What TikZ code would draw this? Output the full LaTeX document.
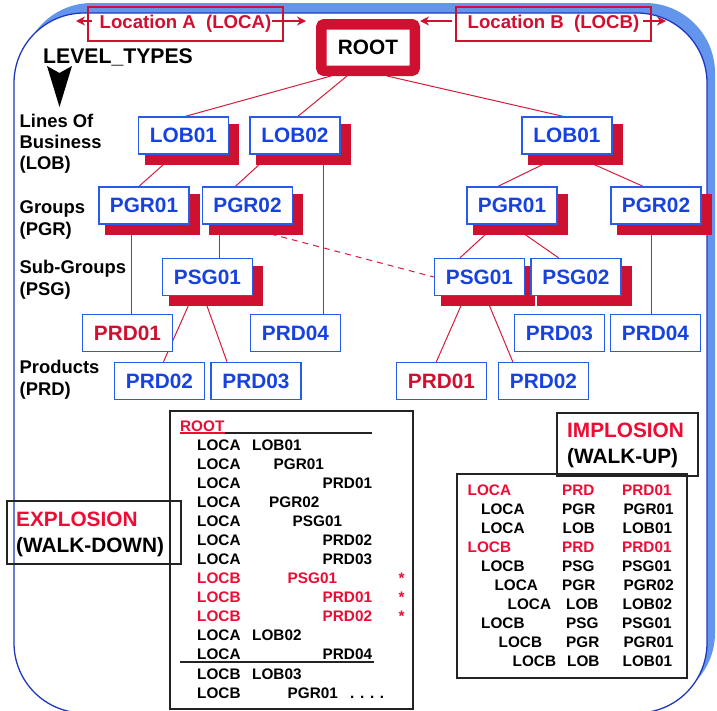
\documentclass[tikz,border=0pt]{standalone}
\usepackage{fontspec}
\setmainfont{Liberation Sans}
\usetikzlibrary{calc,arrows.meta}

\definecolor{crim}{RGB}{208,16,48}
\definecolor{hotred}{RGB}{238,12,52}
\definecolor{linkred}{RGB}{214,28,60}
\definecolor{nodeblue}{RGB}{22,66,226}
\definecolor{edgeblue}{RGB}{40,90,235}
\definecolor{frameblue}{RGB}{30,56,190}
\definecolor{framelight}{RGB}{100,149,237}
\definecolor{inkgray}{RGB}{35,35,35}

\newcommand\fBig{\fontsize{20.8}{25}\selectfont\bfseries}
\newcommand\fLvl{\fontsize{18.4}{21}\selectfont\bfseries}
\newcommand\fLoc{\fontsize{18.6}{22}\selectfont\bfseries}
\newcommand\fTab{\fontsize{15.3}{19}\selectfont\bfseries}

\pgfdeclarelayer{frame}
\pgfdeclarelayer{links}
\pgfdeclarelayer{shade}
\pgfsetlayers{frame,links,shade,main}

% red drop shadow behind a tree box
\newcommand\treeshadow[1]{\fill[crim] ($(#1.north west)+(7,8)$) rectangle ($(#1.south east)+(10,10)$);}

\tikzset{
  treebox/.style={draw=edgeblue, line width=1.4pt, fill=white, minimum width=90pt,
    minimum height=37pt, inner sep=0pt, text=nodeblue, font=\fBig},
  redprd/.style={treebox, text=crim},
  link/.style={draw=linkred, line width=1pt},
  lvl/.style={anchor=base west, inner sep=0pt, font=\fLvl},
  tab/.style={anchor=base west, inner sep=0pt, font=\fTab},
  head/.style={anchor=base west, inner sep=0pt, font=\fBig},
  tabbox/.style={draw=inkgray, line width=1.3pt},
  locbox/.style={draw=crim, line width=1.1pt, minimum width=195pt, minimum height=34pt,
    inner sep=0pt, text=crim, font=\fLoc},
  locarrow/.style={draw=crim, line width=1.4pt, -{Stealth[length=9pt,width=9pt]}},
}

\begin{document}
\begin{tikzpicture}[x=1pt,y=-1pt]
\useasboundingbox (0,0) rectangle (717,710);

% outer rounded frame with light blue offset edge
\begin{pgfonlayer}{frame}
  \fill[framelight, rounded corners=70pt] (22,3) rectangle (715,703);
  \draw[frameblue, line width=1.3pt, fill=white, rounded corners=70pt] (14,13) rectangle (707,713);
\end{pgfonlayer}

% locations
\node[locbox] (locA) at (185.5,24) {Location A\ \ (LOCA)};
\node[locbox] (locB) at (553.5,24) {Location B\ \ (LOCB)};
\coordinate (locAl) at (76,21);
\coordinate (locAr) at (306,21);
\coordinate (locBl) at (420,21);
\coordinate (locBr) at (666,21);
\draw[locarrow] ($(locA.west)+(5,-3)$) -- (locAl);
\draw[locarrow] ($(locA.east)+(-12,-3)$) -- (locAr);
\draw[locarrow] ($(locB.west)+(-3,-3)$) -- (locBl);
\draw[locarrow] ($(locB.east)+(-9,-3)$) -- (locBr);

% root
\node[draw=crim, line width=10.5pt, rounded corners=3pt, fill=white, minimum width=93.5pt,
  minimum height=46.5pt, inner sep=0pt, font=\fBig] (root) at (368,47.5) {ROOT};

% level types
\node[anchor=base west, inner sep=0pt, font=\fontsize{21.2}{25}\selectfont\bfseries] (lvltypes) at (43,63) {LEVEL\_TYPES};
\fill (47,66) -- (59.5,73) -- (72,66) -- (59.5,107) -- cycle;

\node[lvl] (lob1) at (19.5,127) {Lines Of};
\node[lvl] (lob2) at (19.5,148) {Business};
\node[lvl] (lob3) at (19.5,169.5) {(LOB)};
\node[lvl] (grp1) at (19.5,213) {Groups};
\node[lvl] (grp2) at (19.5,235) {(PGR)};
\node[lvl] (sub1) at (19.5,273) {Sub-Groups};
\node[lvl] (sub2) at (19.5,295) {(PSG)};
\node[lvl] (prd1) at (19.5,373) {Products};
\node[lvl] (prd2) at (19.5,395.5) {(PRD)};

% tree boxes
\node[treebox] (lobA) at (183.5,135.5) {LOB01};
\node[treebox] (lobB) at (295,135.5) {LOB02};
\node[treebox] (lobC) at (567,135.5) {LOB01};
\node[treebox] (pgrA) at (144,205.5) {PGR01};
\node[treebox] (pgrB) at (247.5,205.5) {PGR02};
\node[treebox] (pgrC) at (512,205.5) {PGR01};
\node[treebox] (pgrD) at (656,205.5) {PGR02};
\node[treebox] (psgA) at (207.5,277) {PSG01};
\node[treebox] (psgB) at (479.5,277) {PSG01};
\node[treebox] (psgC) at (576,277) {PSG02};
\node[redprd]  (prdA1) at (127.5,333) {PRD01};
\node[treebox] (prdA4) at (295.5,333) {PRD04};
\node[treebox] (prdA2) at (159.5,381) {PRD02};
\node[treebox] (prdA3) at (256,381) {PRD03};
\node[treebox] (prdB3) at (559.5,333) {PRD03};
\node[treebox] (prdB4) at (655.5,333) {PRD04};
\node[redprd]  (prdB1) at (441.5,381) {PRD01};
\node[treebox] (prdB2) at (543.5,381) {PRD02};

\begin{pgfonlayer}{shade}
  \foreach \n in {lobA,lobB,lobC,pgrA,pgrB,pgrC,pgrD,psgA,psgB,psgC}{\treeshadow{\n}}
\end{pgfonlayer}

\begin{pgfonlayer}{links}
  \draw[link] ($(root.south)+(-37,0)$) -- ($(lobA.north)+(2,0)$);
  \draw[link] ($(root.south)+(-21,0)$) -- ($(lobB.north)+(3,0)$);
  \draw[link] ($(root.south)+(19,0)$) -- ($(lobC.north)+(-4,0)$);
  \draw[link] ($(lobA.south)+(-9,0)$) -- ($(pgrA.north)+(-5,0)$);
  \draw[link] ($(lobB.south)+(-25,0)$) -- ($(pgrB.north)+(-12,0)$);
  \draw[link] ($(lobB.south)+(28,0)$) -- ($(prdA4.north)+(27.5,0)$);
  \draw[link] ($(lobC.south)+(-4,0)$) -- ($(pgrC.north)+(-14,0)$);
  \draw[link] ($(lobC.south)+(5,0)$) -- ($(pgrD.north)+(-13,0)$);
  \draw[link] ($(pgrA.south)+(-13,0)$) -- ($(prdA1.north)+(3.5,0)$);
  \draw[link] ($(pgrB.south)+(-28.5,0)$) -- ($(psgA.north)+(11.5,0)$);
  \draw[link, dash pattern=on 6pt off 5pt] ($(pgrB.south)+(-19.5,-2)$) -- (psgB.west);
  \draw[link] ($(psgA.south)+(-15,0)$) -- ($(prdA2.north)+(4,0)$);
  \draw[link] ($(psgA.south)+(-4,0)$) -- ($(prdA3.north)+(-29,0)$);
  \draw[link] ($(pgrC.south)+(-16,0)$) -- ($(psgB.north)+(-19.5,0)$);
  \draw[link] ($(pgrC.south)+(-1,0)$) -- ($(psgC.north)+(-17.5,0)$);
  \draw[link] ($(pgrD.south)+(-5,0)$) -- ($(prdB4.north)+(-4.5,0)$);
  \draw[link] ($(psgB.south)+(-14.3,0)$) -- ($(prdB1.north)+(-5.2,0)$);
  \draw[link] ($(psgB.south)+(6,0)$) -- ($(prdB2.north)+(-30.7,0)$);
\end{pgfonlayer}

% explosion (walk-down)
\draw[tabbox] (7,501) rectangle (181,564);
\node[head, text=hotred] (explo) at (16,526) {EXPLOSION};
\node[head] (walkdown) at (16,552.7) {(WALK-DOWN)};

\draw[tabbox] (170,411) rectangle (413,709);
\node[tab, text=hotred] (eroot) at (180,431) {ROOT};
\coordinate (erootend) at (372,433);
\draw[hotred, line width=1.3pt] ($(eroot.base west)+(0,2)$) -- ($(eroot.base east)+(0,2)$);
\draw[inkgray, line width=1.3pt] ($(eroot.base east)+(0,2)$) -- (erootend);

\node[tab] (e1a) at (197,450) {LOCA};  \node[tab] (e1b) at (252,450) {LOB01};
\node[tab] (e2a) at (197,469) {LOCA};  \node[tab] (e2b) at (273.5,469) {PGR01};
\node[tab] (e3a) at (197,488) {LOCA};  \node[tab] (e3b) at (322.5,488) {PRD01};
\node[tab] (e4a) at (197,507) {LOCA};  \node[tab] (e4b) at (269,507) {PGR02};
\node[tab] (e5a) at (197,526) {LOCA};  \node[tab] (e5b) at (292.5,526) {PSG01};
\node[tab] (e6a) at (197,545) {LOCA};  \node[tab] (e6b) at (322.5,545) {PRD02};
\node[tab] (e7a) at (197,564) {LOCA};  \node[tab] (e7b) at (322.5,564) {PRD03};
\node[tab, text=hotred] (e8a) at (197,583) {LOCB};  \node[tab, text=hotred] (e8b) at (287.5,583) {PSG01};
\node[tab, text=hotred] (e8c) at (398.5,583) {*};
\node[tab, text=hotred] (e9a) at (197,602) {LOCB};  \node[tab, text=hotred] (e9b) at (322.5,602) {PRD01};
\node[tab, text=hotred] (e9c) at (398.5,602) {*};
\node[tab, text=hotred] (e10a) at (197,621) {LOCB}; \node[tab, text=hotred] (e10b) at (322.5,621) {PRD02};
\node[tab, text=hotred] (e10c) at (398.5,621) {*};
\node[tab] (e11a) at (197,640) {LOCA}; \node[tab] (e11b) at (252,640) {LOB02};
\node[tab] (e12a) at (197,659) {LOCA}; \node[tab] (e12b) at (322.5,659) {PRD04};
\coordinate (sepL) at (180,662);
\coordinate (sepR) at (374,662);
\draw[inkgray, line width=1.3pt] (sepL) -- (sepR);
\node[tab] (e13a) at (197,679) {LOCB}; \node[tab] (e13b) at (252,679) {LOB03};
\node[tab] (e14a) at (197,698) {LOCB}; \node[tab] (e14b) at (287.5,698) {PGR01};
\node[tab] (e14c) at (350,698) {. . . .};

% implosion (walk-up)
\draw[tabbox] (557,413) rectangle (698,476);
\node[head, text=hotred] (implo) at (567,437.7) {IMPLOSION};
\node[head] (walkup) at (567,463) {(WALK-UP)};

\draw[tabbox] (457,474) rectangle (687,678);
\foreach \r/\xa/\la/\xb/\lb/\xc/\lc/\cl in {
  1/467.5/LOCA/562/PRD/622/PRD01/hotred,
  2/481/LOCA/562/PGR/623.3/PGR01/black,
  3/481/LOCA/562.5/LOB/622.5/LOB01/black,
  4/467.5/LOCB/562/PRD/622/PRD01/hotred,
  5/481/LOCB/562/PSG/622/PSG01/black,
  6/494.3/LOCA/562/PGR/623.5/PGR02/black,
  7/507.5/LOCA/566/LOB/622.5/LOB02/black,
  8/481/LOCB/566/PSG/622/PSG01/black,
  9/498.5/LOCB/566/PGR/623.3/PGR01/black,
  10/512.5/LOCB/567/LOB/622.5/LOB01/black}{
  \pgfmathsetmacro\yy{495+19*(\r-1)}
  \node[tab, text=\cl] (imp\r a) at (\xa,\yy) {\la};
  \node[tab, text=\cl] (imp\r b) at (\xb,\yy) {\lb};
  \node[tab, text=\cl] (imp\r c) at (\xc,\yy) {\lc};
}
\end{tikzpicture}
\end{document}
